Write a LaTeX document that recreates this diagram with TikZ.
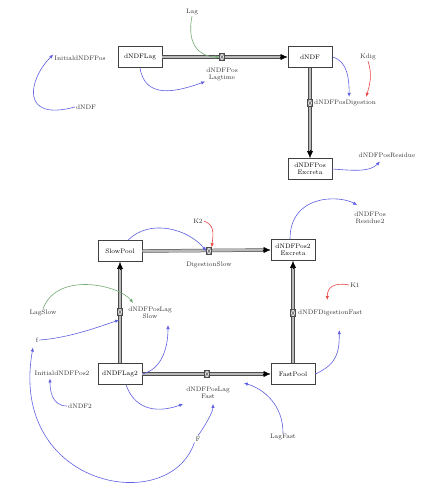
\documentclass[tikz,border=0pt]{standalone}
\usetikzlibrary{arrows.meta,calc}
\definecolor{linkblue}{RGB}{95,95,225}
\definecolor{linkgreen}{RGB}{115,170,115}
\definecolor{linkred}{RGB}{232,72,72}
\begin{document}
\begin{tikzpicture}[x=1pt,y=-1pt,
            font=\fontsize{6.5}{7}\selectfont,
            lvl/.style={draw=black!75, line width=0.7pt, fill=white, minimum width=44pt,
                minimum height=21pt, inner sep=2pt, align=center},
            lbl/.style={inner sep=1pt, align=center, text=black!80},
            pipe/.style={draw=black!70, line width=0.5pt, double=gray!55, double distance=2.4pt},
            pipetip/.style={-{Latex[length=7pt,width=6pt]}, line width=0.5pt, black},
            valve/.style={draw=black!70, line width=0.4pt, fill=gray!25, minimum width=5pt,
                minimum height=7pt, inner sep=0pt,
                path picture={\draw[black!70, line width=0.4pt]
                    (path picture bounding box.north west) -- (path picture bounding box.south east)
                    (path picture bounding box.north east) -- (path picture bounding box.south west);}},
            link/.style={-{Latex[length=4pt,width=3.5pt]}, line width=0.6pt, linkblue},
            glink/.style={link, linkgreen},
            rlink/.style={link, linkred}]
            \useasboundingbox (0,0) rectangle (422,490);

            % levels
            \node[lvl] (lagbox) at (140,57) {dNDFLag};
            \node[lvl] (ndfbox) at (310,57) {dNDF};
            \node[lvl] (exbox) at (310,169) {dNDFPos\\Excreta};
            \node[lvl] (slowbox) at (120,251) {SlowPool};
            \node[lvl] (pos2box) at (293,250) {dNDFPos2\\Excreta};
            \node[lvl] (fastbox) at (293,374) {FastPool};
            \node[lvl] (lag2box) at (120,374) {dNDFLag2};

            % flows
            \draw[pipe, shorten >=6pt] (lagbox.east) -- (ndfbox.west);
            \draw[pipetip] ($(ndfbox.west)+(-8,0)$) -- (ndfbox.west);
            \draw[pipe, shorten >=6pt] (ndfbox.south) -- (exbox.north);
            \draw[pipetip] ($(exbox.north)+(0,-8)$) -- (exbox.north);
            \draw[pipe, shorten >=6pt] (slowbox.east) -- (pos2box.west);
            \draw[pipetip] ($(pos2box.west)+(-8,0)$) -- (pos2box.west);
            \draw[pipe, shorten >=6pt] (lag2box.north) -- (slowbox.south);
            \draw[pipetip] ($(slowbox.south)+(0,8)$) -- (slowbox.south);
            \draw[pipe, shorten >=6pt] (lag2box.east) -- (fastbox.west);
            \draw[pipetip] ($(fastbox.west)+(-8,0)$) -- (fastbox.west);
            \draw[pipe, shorten >=6pt] (fastbox.north) -- (pos2box.south);
            \draw[pipetip] ($(pos2box.south)+(0,8)$) -- (pos2box.south);

            % valves and their names
            \node[valve] (v1) at (222,57) {};
            \node[valve] (v2) at (310,103) {};
            \node[valve] (v3) at (209,251) {};
            \node[valve] (v4) at (120,312) {};
            \node[valve] (v5) at (207,374) {};
            \node[valve] (v6) at (293,313) {};
            \node[lbl] (lagtime) at (222,74) {dNDFPos\\Lagtime};
            \node[lbl, anchor=west] (dig) at (313,103) {dNDFPosDigestion};
            \node[lbl] (dslow) at (209,265) {DigestionSlow};
            \node[lbl] (slowlbl) at (150,313) {dNDFPosLag\\Slow};
            \node[lbl] (fastlbl) at (208,393) {dNDFPosLag\\Fast};
            \node[lbl, anchor=west] (dfast) at (297,313) {dNDFDigestionFast};

            % other variables
            \foreach \name/\pos/\txt in {lag/{(192,12)}/Lag, init/{(80,58)}/InitialdNDFPos,
                    ndf/{(86,107)}/dNDF, kdig/{(368,57)}/Kdig, residue/{(387,155)}/dNDFPosResidue,
                    k2/{(198,221)}/K2, res2/{(370,218)}/{dNDFPos\\Residue2}, k1/{(355,285)}/K1,
                    lagslow/{(43,313)}/LagSlow, fsmall/{(37,340)}/f, init2/{(62,373)}/InitialdNDFPos2,
                    ndf2/{(80,406)}/dNDF2, fbig/{(198,439)}/F, lagfast/{(283,437)}/LagFast}
                \node[lbl] (\name) at \pos {\txt};

            % links, top
            \draw[glink] (lag.south) .. controls +(-6,30) and +(-18,0) .. (v1.west);
            \draw[link] (lagbox.south) .. controls +(5,32) and +(-28,10) .. (lagtime.south west);
            \draw[link] (ndf.west) .. controls +(-55,15) and +(-25,25) .. (init.north west);
            \draw[rlink] (kdig.south) .. controls +(5,14) and +(3,-10) .. ($(dig.north)+(21,-2)$);
            \draw[link] (ndfbox.east) .. controls +(16,4) and +(0,-16) .. ($(dig.north)+(4,-2)$);
            \draw[link] (exbox.east) .. controls +(25,2) and +(-10,10) .. ($(residue.south)+(-7,3)$);

            % links, bottom
            \draw[rlink] (k2.east) .. controls +(10,4) and +(2,-16) .. (v3.north east);
            \draw[link] ($(slowbox.north)+(8,0)$) .. controls +(22,-22) and +(-18,-22) .. (v3.west);
            \draw[link] ($(pos2box.north)+(-3,0)$) .. controls +(0,-45) and +(-18,-10) .. ($(res2.north west)+(4,-6)$);
            \draw[rlink] (k1.west) .. controls +(-16,-3) and +(0,-12) .. ($(dfast.north)+(-3,-9)$);
            \draw[link] (fastbox.east) .. controls +(22,-10) and +(0,22) .. ($(dfast.south)+(9,13)$);
            \draw[glink] (lagslow.north) .. controls +(14,-38) and +(-14,-18) .. ($(slowlbl.north west)+(6,-3)$);
            \draw[link] (fsmall.east) .. controls +(30,-2) and +(-18,6) .. ($(slowlbl.south west)+(-8,0)$);
            \draw[link] (lag2box.east) .. controls +(20,-5) and +(0,22) .. ($(slowlbl.south)+(18,5)$);
            \draw[link] (ndf2.west) .. controls +(-16,0) and +(0,10) .. ($(init2.south)+(-12,2)$);
            \draw[link] (fbig.south west) .. controls +(-25,75) and +(-25,140) .. ($(fsmall.south)+(-4,4)$);
            \draw[link] (fbig.north) .. controls +(6,-8) and +(0,8) .. ($(fastlbl.south)+(5,4)$);
            \draw[link] ($(lag2box.south)+(6,0)$) .. controls +(10,28) and +(-22,8) .. ($(fastlbl.south west)+(-2,4)$);
            \draw[link] (lagfast.north) .. controls +(0,-28) and +(20,6) .. ($(fastlbl.north east)+(13,-3)$);
        \end{tikzpicture}
\end{document}
